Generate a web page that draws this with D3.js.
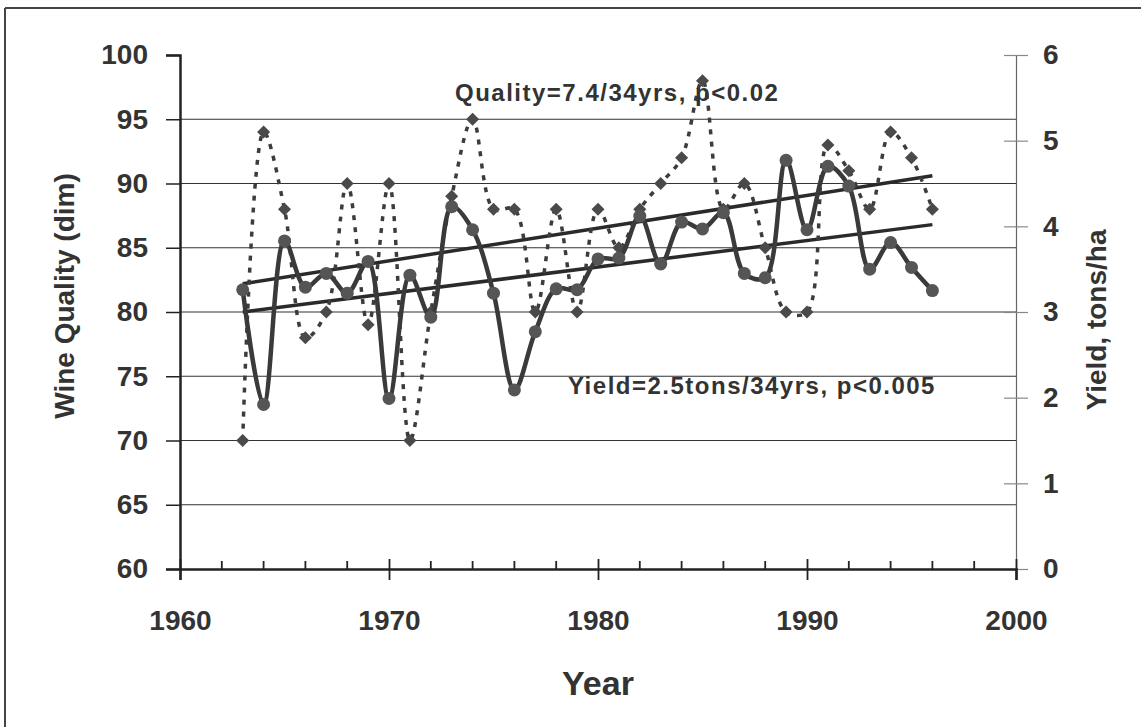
<!DOCTYPE html>
<html>
<head>
<meta charset="utf-8">
<script src="https://cdn.jsdelivr.net/npm/d3@7"></script>
<style>
  body { margin: 0; background: #fff; }
  text { font-family: "Liberation Sans", Arial, sans-serif; font-weight: bold; fill: #333; }
</style>
</head>
<body>
<div id="container"></div>
<script>
const WIDTH = 1141;
const HEIGHT = 727;
const PLOT = { LEFT: 180, RIGHT: 1016, TOP: 55, BOTTOM: 569 };

// data
const years = d3.range(1963, 1997);
const quality = [70, 94, 88, 78, 80, 90, 79, 90, 70, 80, 89, 95, 88, 88, 80, 88, 80,
                 88, 85, 88, 90, 92, 98, 88, 90, 85, 80, 80, 93, 91, 88, 94, 92, 88];
const yieldTons = [3.26, 1.92, 3.83, 3.29, 3.45, 3.22, 3.59, 1.99, 3.43, 2.94, 4.23, 3.96,
                   3.22, 2.09, 2.77, 3.27, 3.26, 3.62, 3.63, 4.12, 3.56, 4.05, 3.97, 4.16,
                   3.45, 3.40, 4.77, 3.96, 4.70, 4.47, 3.50, 3.81, 3.52, 3.25];
const trendYears = [1963, 1996];
const trendUpper = [82.2, 90.6];
const trendLower = [80.0, 86.8];
const qualityTicks = [60, 65, 70, 75, 80, 85, 90, 95, 100];
const yieldTicks = [0, 1, 2, 3, 4, 5, 6];
const yearTicks = [1960, 1970, 1980, 1990, 2000];
const yearMinor = d3.range(1962, 2000, 2).filter(y => y % 10 !== 0);

const svg = d3.select('#container')
              .append('svg')
                .attr('width', WIDTH)
                .attr('height', HEIGHT);

// frame of the scanned figure
svg.append('line').attr('x1', 5).attr('x2', WIDTH).attr('y1', 8).attr('y2', 8)
   .attr('stroke', '#444').attr('stroke-width', 2);
svg.append('line').attr('x1', 5).attr('x2', 5).attr('y1', 8).attr('y2', HEIGHT)
   .attr('stroke', '#444').attr('stroke-width', 2);

const x = d3.scaleLinear().domain([1960, 2000]).range([PLOT.LEFT, PLOT.RIGHT]);
const yq = d3.scaleLinear().domain([60, 100]).range([PLOT.BOTTOM, PLOT.TOP]);
const yy = d3.scaleLinear().domain([0, 6]).range([PLOT.BOTTOM, PLOT.TOP]);

// gridlines
svg.append('g')
   .selectAll('line')
   .data(qualityTicks.filter(d => d > 60 && d < 100))
   .enter()
   .append('line')
     .attr('x1', PLOT.LEFT).attr('x2', PLOT.RIGHT)
     .attr('y1', d => yq(d)).attr('y2', d => yq(d))
     .attr('stroke', '#333').attr('stroke-width', 1.2);

// left axis
const axisLeft = d3.axisLeft(yq).tickValues(qualityTicks).tickSize(14).tickPadding(18);
const gl = svg.append('g').attr('transform', `translate(${PLOT.LEFT},0)`).call(axisLeft);
gl.select('.domain').attr('stroke', '#222').attr('stroke-width', 2.5);
gl.selectAll('.tick line').attr('stroke', '#222').attr('stroke-width', 1.5);
gl.selectAll('.tick text').style('font-size', '28px').attr('fill', '#333');

// right axis
const axisRight = d3.axisRight(yy).tickValues(yieldTicks).tickFormat(d3.format('d'))
                    .tickSize(12).tickPadding(15);
const gr = svg.append('g').attr('transform', `translate(${PLOT.RIGHT},0)`).call(axisRight);
gr.select('.domain').attr('stroke', '#666').attr('stroke-width', 1.2);
gr.selectAll('.tick line').attr('stroke', '#888').attr('stroke-width', 1.2).attr('x1', -12);
gr.selectAll('.tick text').style('font-size', '28px').attr('fill', '#333');

// bottom axis
const axisBottom = d3.axisBottom(x).tickValues(yearTicks).tickFormat(d3.format('d'))
                     .tickSize(11).tickPadding(30);
const gb = svg.append('g').attr('transform', `translate(0,${PLOT.BOTTOM})`).call(axisBottom);
gb.select('.domain').attr('stroke', '#222').attr('stroke-width', 2.5);
gb.selectAll('.tick line').attr('stroke', '#222').attr('stroke-width', 1.8)
  .attr('y1', -10).attr('y2', 11);
gb.selectAll('.tick text').style('font-size', '28px').attr('fill', '#333');
svg.append('g')
   .selectAll('line')
   .data(yearMinor)
   .enter()
   .append('line')
     .attr('x1', d => x(d)).attr('x2', d => x(d))
     .attr('y1', PLOT.BOTTOM).attr('y2', PLOT.BOTTOM - 8)
     .attr('stroke', '#222').attr('stroke-width', 1.8);

// axis titles
svg.append('text')
   .attr('x', x(1980)).attr('y', 695)
   .attr('text-anchor', 'middle')
   .style('font-size', '34px')
   .text('Year');
svg.append('text')
   .attr('transform', `translate(74,296) rotate(-90)`)
   .attr('text-anchor', 'middle')
   .style('font-size', '28px').attr('fill', '#4a4a4a')
   .text('Wine Quality (dim)');
svg.append('text')
   .attr('transform', `translate(1106,320) rotate(-90)`)
   .attr('text-anchor', 'middle')
   .style('font-size', '28px').attr('fill', '#444')
   .text('Yield, tons/ha');

// trend lines (quality scale)
const trend = vals => d3.line().x((d, i) => x(trendYears[i])).y(d => yq(d))(vals);
[trendUpper, trendLower].forEach(t => {
    svg.append('path')
       .attr('d', trend(t))
       .attr('fill', 'none')
       .attr('stroke', '#2a2a2a')
       .attr('stroke-width', 3.5);
});

// quality: dotted smoothed line with diamonds
const qualityLine = d3.line()
                      .x((d, i) => x(years[i]))
                      .y(d => yq(d))
                      .curve(d3.curveCatmullRom.alpha(0.5));
svg.append('path')
   .attr('d', qualityLine(quality))
   .attr('fill', 'none')
   .attr('stroke', '#3c3c3c')
   .attr('stroke-width', 3.5)
   .attr('stroke-dasharray', '5,7');
svg.append('g')
   .selectAll('path')
   .data(quality)
   .enter()
   .append('path')
     .attr('d', d3.symbol().type(d3.symbolSquare).size(85))
     .attr('transform', (d, i) => `translate(${x(years[i])},${yq(d)}) rotate(45)`)
     .attr('fill', '#4a4a4a');

// yield: solid smoothed line with circles
const yieldLine = d3.line()
                    .x((d, i) => x(years[i]))
                    .y(d => yy(d))
                    .curve(d3.curveCatmullRom.alpha(0.5));
svg.append('path')
   .attr('d', yieldLine(yieldTons))
   .attr('fill', 'none')
   .attr('stroke', '#3a3a3a')
   .attr('stroke-width', 4.5);
svg.append('g')
   .selectAll('circle')
   .data(yieldTons)
   .enter()
   .append('circle')
     .attr('cx', (d, i) => x(years[i]))
     .attr('cy', d => yy(d))
     .attr('r', 6.5)
     .attr('fill', '#555');

// annotations
svg.append('text')
   .attr('x', 455).attr('y', 101)
   .style('font-size', '24px').style('letter-spacing', '1.5px')
   .text('Quality=7.4/34yrs, p<0.02');
svg.append('text')
   .attr('x', 568).attr('y', 394)
   .style('font-size', '24px').style('letter-spacing', '1.5px')
   .text('Yield=2.5tons/34yrs, p<0.005');
</script>
</body>
</html>
